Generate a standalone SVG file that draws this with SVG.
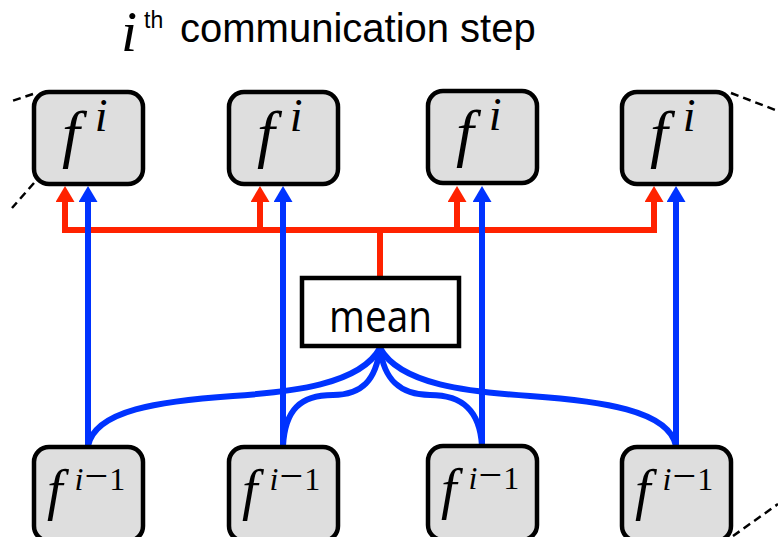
<svg xmlns="http://www.w3.org/2000/svg" width="778" height="537" viewBox="0 0 778 537">
  <style>
    .node { fill: #dedede; stroke: #000; stroke-width: 4.5; }
    .meanbox { fill: #fff; stroke: #000; stroke-width: 4.5; }
    .math { font-family: "Liberation Serif", "DejaVu Serif", serif; font-style: italic; fill: #000; }
    .up { font-style: normal; }
    .sans { font-family: "Liberation Sans", Arial, sans-serif; fill: #000; }
    .red { fill: none; stroke: #ff2200; stroke-width: 6; }
    .blue { fill: none; stroke: #0033ff; stroke-width: 6; }
    .dash { fill: none; stroke: #000; stroke-width: 2.5; stroke-dasharray: 8 5; }
  </style>
  <defs>
    <marker id="arrowRed" markerUnits="userSpaceOnUse" viewBox="0 0 16 19" markerWidth="16" markerHeight="19" refX="0" refY="9.5" orient="auto">
      <path d="M0,0 L16,9.5 L0,19 Z" fill="#ff2200"/>
    </marker>
    <marker id="arrowBlue" markerUnits="userSpaceOnUse" viewBox="0 0 16 19" markerWidth="16" markerHeight="19" refX="0" refY="9.5" orient="auto">
      <path d="M0,0 L16,9.5 L0,19 Z" fill="#0033ff"/>
    </marker>
  </defs>

  <!-- heading -->
  <g id="title">
    <text class="math" x="121" y="51" font-size="58">i</text>
    <text class="sans" x="144" y="28" font-size="23">th</text>
    <text class="sans" x="180" y="42" font-size="40">communication step</text>
  </g>

  <!-- dashed continuation lines -->
  <g id="continuations">
    <path class="dash" d="M33,94 L12,101"/>
    <path class="dash" d="M34,183 L12,208"/>
    <path class="dash" d="M731,93 L778,111"/>
    <path class="dash" d="M733,536 L778,504"/>
  </g>

  <!-- connectors -->
  <g id="connectors">
    <!-- broadcast of the mean (red) -->
    <path class="red" d="M380,278 V230"/>
    <path class="red" d="M654,230 H65 V202" marker-end="url(#arrowRed)"/>
    <path class="red" d="M260,230 V202" marker-end="url(#arrowRed)"/>
    <path class="red" d="M457,230 V202" marker-end="url(#arrowRed)"/>
    <path class="red" d="M65,230 H654 V202" marker-end="url(#arrowRed)"/>
    <!-- previous state passed straight up (blue) -->
    <path class="blue" d="M88,446 V202" marker-end="url(#arrowBlue)"/>
    <path class="blue" d="M283,446 V202" marker-end="url(#arrowBlue)"/>
    <path class="blue" d="M482,446 V202" marker-end="url(#arrowBlue)"/>
    <path class="blue" d="M676,446 V202" marker-end="url(#arrowBlue)"/>
    <!-- inputs to the mean (blue) -->
    <path class="blue" d="M380,348 C360,385 290,392 233,396 C160,401 95,410 88,446"/>
    <path class="blue" d="M380,348 C376,380 362,395 333,395 C300,395 285,410 283,446"/>
    <path class="blue" d="M380,348 C384,380 400,395 430,395 C462,395 480,410 482,446"/>
    <path class="blue" d="M380,348 C400,385 470,392 530,396 C600,401 669,410 676,446"/>
  </g>

  <!-- mean node -->
  <g id="mean">
    <rect class="meanbox" x="302" y="278" width="157" height="68"/>
    <text x="380.5" y="332" font-family="'Open Sans', 'Noto Sans', sans-serif" font-size="44" text-anchor="middle" textLength="103" lengthAdjust="spacingAndGlyphs">mean</text>
  </g>

  <!-- current step nodes -->
  <g id="fi-1">
    <rect class="node" x="34" y="92" width="109" height="92" rx="15"/>
    <text class="math" x="62" y="155" font-size="64">f<tspan font-size="46" dy="-24" dx="15">i</tspan></text>
  </g>
  <g id="fi-2">
    <rect class="node" x="229" y="92" width="109" height="92" rx="15"/>
    <text class="math" x="257" y="155" font-size="64">f<tspan font-size="46" dy="-24" dx="15">i</tspan></text>
  </g>
  <g id="fi-3">
    <rect class="node" x="428" y="91" width="109" height="92" rx="15"/>
    <text class="math" x="456" y="154" font-size="64">f<tspan font-size="46" dy="-24" dx="15">i</tspan></text>
  </g>
  <g id="fi-4">
    <rect class="node" x="622" y="92" width="109" height="92" rx="15"/>
    <text class="math" x="650" y="155" font-size="64">f<tspan font-size="46" dy="-24" dx="15">i</tspan></text>
  </g>

  <!-- previous step nodes -->
  <g id="fprev-1">
    <rect class="node" x="34" y="447" width="109" height="94" rx="15"/>
    <text class="math" x="47" y="509" font-size="56">f<tspan font-size="32" dy="-19" dx="12">i</tspan><tspan class="up" font-size="42" dx="1">−</tspan><tspan class="up" font-size="32" dx="1">1</tspan></text>
  </g>
  <g id="fprev-2">
    <rect class="node" x="229" y="447" width="109" height="94" rx="15"/>
    <text class="math" x="242" y="509" font-size="56">f<tspan font-size="32" dy="-19" dx="12">i</tspan><tspan class="up" font-size="42" dx="1">−</tspan><tspan class="up" font-size="32" dx="1">1</tspan></text>
  </g>
  <g id="fprev-3">
    <rect class="node" x="428" y="446" width="109" height="94" rx="15"/>
    <text class="math" x="441" y="508" font-size="56">f<tspan font-size="32" dy="-19" dx="12">i</tspan><tspan class="up" font-size="42" dx="1">−</tspan><tspan class="up" font-size="32" dx="1">1</tspan></text>
  </g>
  <g id="fprev-4">
    <rect class="node" x="622" y="447" width="109" height="94" rx="15"/>
    <text class="math" x="635" y="509" font-size="56">f<tspan font-size="32" dy="-19" dx="12">i</tspan><tspan class="up" font-size="42" dx="1">−</tspan><tspan class="up" font-size="32" dx="1">1</tspan></text>
  </g>
</svg>
